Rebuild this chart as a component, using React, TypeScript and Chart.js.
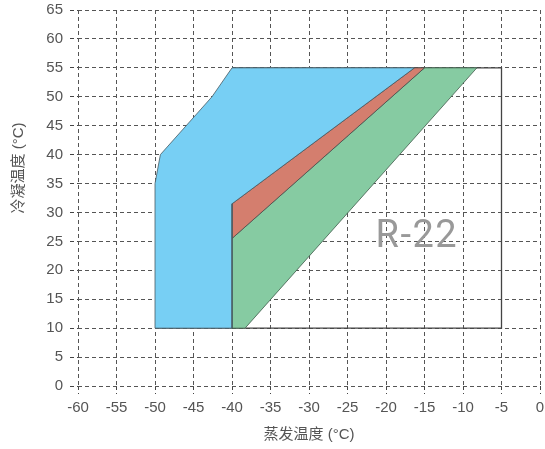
import React, { useEffect, useRef } from "react";
import { Chart, registerables } from "chart.js";

Chart.register(...registerables);

const xTicks = [-60, -55, -50, -45, -40, -35, -30, -25, -20, -15, -10, -5, 0];
const yTicks = [0, 5, 10, 15, 20, 25, 30, 35, 40, 45, 50, 55, 60, 65];

const blueX = [-50, -50, -49.3, -42.6, -40, -16.3, -40, -40, -50];
const blueY = [10, 35, 40, 50, 55, 55, 31.5, 10, 10];

const redX = [-40, -16.3, -15, -40, -40];
const redY = [31.5, 55, 55, 25.5, 31.5];

const greenX = [-40, -15, -8.2, -38.3, -40, -40];
const greenY = [25.5, 55, 55, 10, 10, 25.5];

const boxX = [-40, -5, -5, -50];
const boxY = [55, 55, 10, 10];

const label = "R-22";
const labelPos = { x: -16.0, y: 25.6 };
const xTitle = "蒸发温度 (°C)";
const yTitle = "冷凝温度 (°C)";

const pts = (xs: number[], ys: number[]) => xs.map((x, i) => ({ x, y: ys[i] }));

const FONT = "'Liberation Sans', 'Noto Sans CJK SC', sans-serif";

export default function App() {
  const ref = useRef<HTMLCanvasElement | null>(null);
  useEffect(() => {
    if (!ref.current) return;
    const textPlugin = {
      id: "r22",
      afterDatasetsDraw(chart: any) {
        const { ctx, scales } = chart;
        const px = scales.x.getPixelForValue(labelPos.x);
        const py = scales.y.getPixelForValue(labelPos.y);
        ctx.save();
        ctx.font = `400 38px Roboto, ${FONT}`;
        try { (ctx as any).letterSpacing = "1.5px"; } catch (e) {}
        ctx.fillStyle = "#999";
        ctx.textAlign = "center";
        ctx.textBaseline = "middle";
        ctx.fillText(label, px, py);
        ctx.restore();
      },
      afterDraw(chart: any) {
        const { ctx, chartArea } = chart;
        ctx.save();
        ctx.font = `15px ${FONT}`;
        ctx.fillStyle = "#555";
        ctx.textAlign = "center";
        ctx.textBaseline = "middle";
        ctx.fillText(xTitle, (chartArea.left + chartArea.right) / 2, 435);
        ctx.translate(19, 168);
        ctx.rotate(-Math.PI / 2);
        ctx.fillText(yTitle, 0, 0);
        ctx.restore();
      },
    };
    const gridOpts = {
      color: "#555",
      lineWidth: 1,
      tickBorderDash: [4, 3],
      tickLength: 8,
      tickColor: "#444",
    } as any;
    const chart = new Chart(ref.current, {
      type: "scatter",
      data: {
        datasets: [
          {
            data: pts(blueX, blueY),
            showLine: true,
            fill: "shape",
            backgroundColor: "#77cff4",
            borderColor: "#4a5a62",
            borderWidth: 0.8,
            pointRadius: 0,
          },
          {
            data: pts(redX, redY),
            showLine: true,
            fill: "shape",
            backgroundColor: "#d47e6e",
            borderColor: "#4a4a4a",
            borderWidth: 0.8,
            pointRadius: 0,
          },
          {
            data: pts(greenX, greenY),
            showLine: true,
            fill: "shape",
            backgroundColor: "#86cba2",
            borderColor: "#3f5a4a",
            borderWidth: 0.8,
            pointRadius: 0,
          },
          {
            data: pts(boxX, boxY),
            showLine: true,
            fill: false,
            borderColor: "#444",
            borderWidth: 1.3,
            pointRadius: 0,
          },
        ] as any,
      },
      plugins: [textPlugin],
      options: {
        animation: false,
        responsive: false,
        maintainAspectRatio: false,
        layout: { padding: { left: 0, right: 5, top: 10, bottom: 0 } },
        plugins: { legend: { display: false }, tooltip: { enabled: false } },
        scales: {
          x: {
            type: "linear",
            min: -60,
            max: 0,
            afterBuildTicks: (s: any) => {
              s.ticks = xTicks.map((v) => ({ value: v }));
            },
            afterFit: (s: any) => {
              s.height = 63;
              s.paddingLeft = 0;
              s.paddingRight = 0;
            },
            grid: gridOpts,
            border: { display: false, dash: [4, 3] },
            ticks: {
              color: "#555",
              font: { family: FONT, size: 15 },
              padding: 5,
              maxRotation: 0,
            },
          },
          y: {
            type: "linear",
            min: 0,
            max: 65,
            afterBuildTicks: (s: any) => {
              s.ticks = yTicks.map((v) => ({ value: v }));
            },
            afterFit: (s: any) => {
              s.width = 78;
              s.paddingTop = 0;
              s.paddingBottom = 0;
            },
            grid: gridOpts,
            border: { display: false, dash: [4, 3] },
            ticks: {
              color: "#555",
              font: { family: FONT, size: 15 },
              padding: 7,
            },
          },
        },
      } as any,
    });
    return () => chart.destroy();
  }, []);
  return (
    <div style={{ position: "fixed", left: 0, top: 0, width: 545, height: 449, background: "#fff" }}>
      <canvas ref={ref} width={545} height={449} style={{ width: 545, height: 449 }} />
    </div>
  );
}
